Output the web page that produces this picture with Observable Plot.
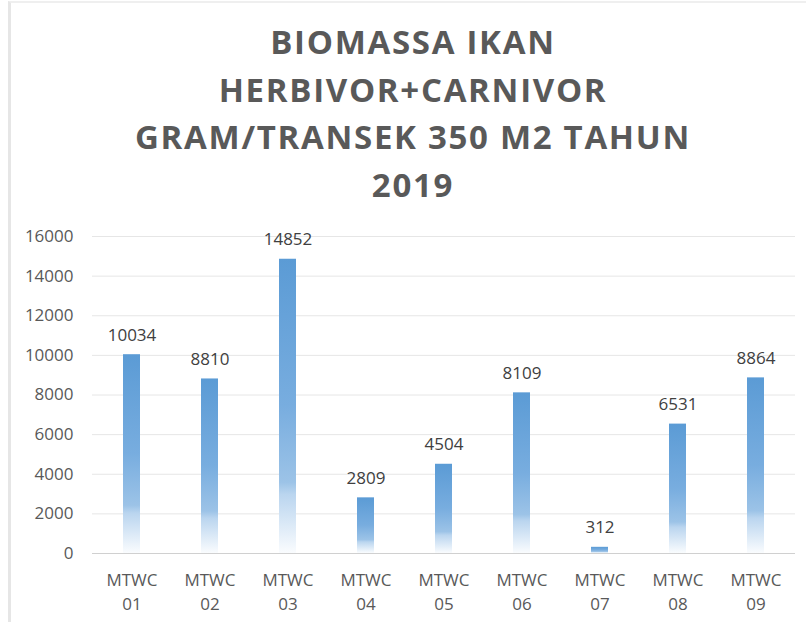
<!DOCTYPE html>
<html>
<head>
<meta charset="utf-8">
<script src="https://cdn.jsdelivr.net/npm/d3@7"></script>
<script src="https://cdn.jsdelivr.net/npm/@observablehq/plot@0.6"></script>
<style>
  html, body { margin: 0; padding: 0; background: #fff; }
  #wrap { position: relative; width: 806px; height: 622px; overflow: hidden; }
  #frame { position: absolute; left: 8px; top: 1px; width: 900px; height: 700px;
           border-left: 3px solid #e6e6e6; border-top: 2px solid #efefef; box-sizing: border-box; }
  #title { position: absolute; left: 13px; width: 800px; top: 18px; text-align: center;
           font-family: "Open Sans", sans-serif; font-weight: bold; font-size: 33px; line-height: 47.5px;
           letter-spacing: 1.7px; color: #595959; }
  #chart { position: absolute; left: 0; top: 215px; }
</style>
</head>
<body>
<div id="wrap">
  <div id="frame"></div>
  <div id="title">BIOMASSA IKAN<br>HERBIVOR+CARNIVOR<br>GRAM/TRANSEK 350 M2 TAHUN<br>2019</div>
  <div id="chart"></div>
</div>
<script>
const sites = ["MTWC 01", "MTWC 02", "MTWC 03", "MTWC 04", "MTWC 05", "MTWC 06", "MTWC 07", "MTWC 08", "MTWC 09"];
const biomass = [10034, 8810, 14852, 2809, 4504, 8109, 312, 6531, 8864];
const yTicks = [0, 2000, 4000, 6000, 8000, 10000, 12000, 14000, 16000];

const data = sites.map((s, i) => ({site: s, value: biomass[i]}));

const chart = Plot.plot({
  width: 806,
  height: 407,
  marginTop: 21,
  marginBottom: 69,
  marginLeft: 92,
  marginRight: 11,
  style: {fontFamily: "'Open Sans', sans-serif", fontSize: "16px", color: "#595959", background: "transparent"},
  x: {domain: sites, paddingInner: 0.78, paddingOuter: 0.39, label: null},
  y: {domain: [0, 16000], ticks: yTicks, label: null},
  marks: [
    () => {
      const svg = d3.create("svg:defs");
      const g = svg.append("linearGradient").attr("id", "barGrad")
        .attr("x1", 0).attr("y1", 0).attr("x2", 0).attr("y2", 1);
      g.append("stop").attr("offset", "0").attr("stop-color", "#5b9bd5");
      g.append("stop").attr("offset", "0.5").attr("stop-color", "#78addf");
      g.append("stop").attr("offset", "0.76").attr("stop-color", "#9cc3e7");
      g.append("stop").attr("offset", "0.8").attr("stop-color", "#bad5ef");
      g.append("stop").attr("offset", "1").attr("stop-color", "#fafcfe");
      return svg.node();
    },
    Plot.gridY(yTicks.filter(d => d > 0), {stroke: "#e6e6e6", strokeOpacity: 1}),
    Plot.ruleY([0], {stroke: "#d0d0d0"}),
    Plot.axisY(yTicks, {tickSize: 0, tickPadding: 19, fontSize: 17, fill: "#595959", label: null,
                        tickFormat: d => String(d)}),
    Plot.axisX({tickSize: 0, tickPadding: 15, fontSize: 17, fill: "#595959", lineHeight: 1.42,
                tickFormat: d => d.replace(" ", "\n"), label: null}),
    Plot.barY(data, {x: "site", y: "value", fill: "url(#barGrad)"}),
    Plot.text(data, {x: "site", y: "value", text: d => String(d.value), dy: -14, lineAnchor: "bottom",
                     fill: "#404040", fontSize: 17})
  ]
});
document.getElementById("chart").appendChild(chart);
</script>
</body>
</html>
